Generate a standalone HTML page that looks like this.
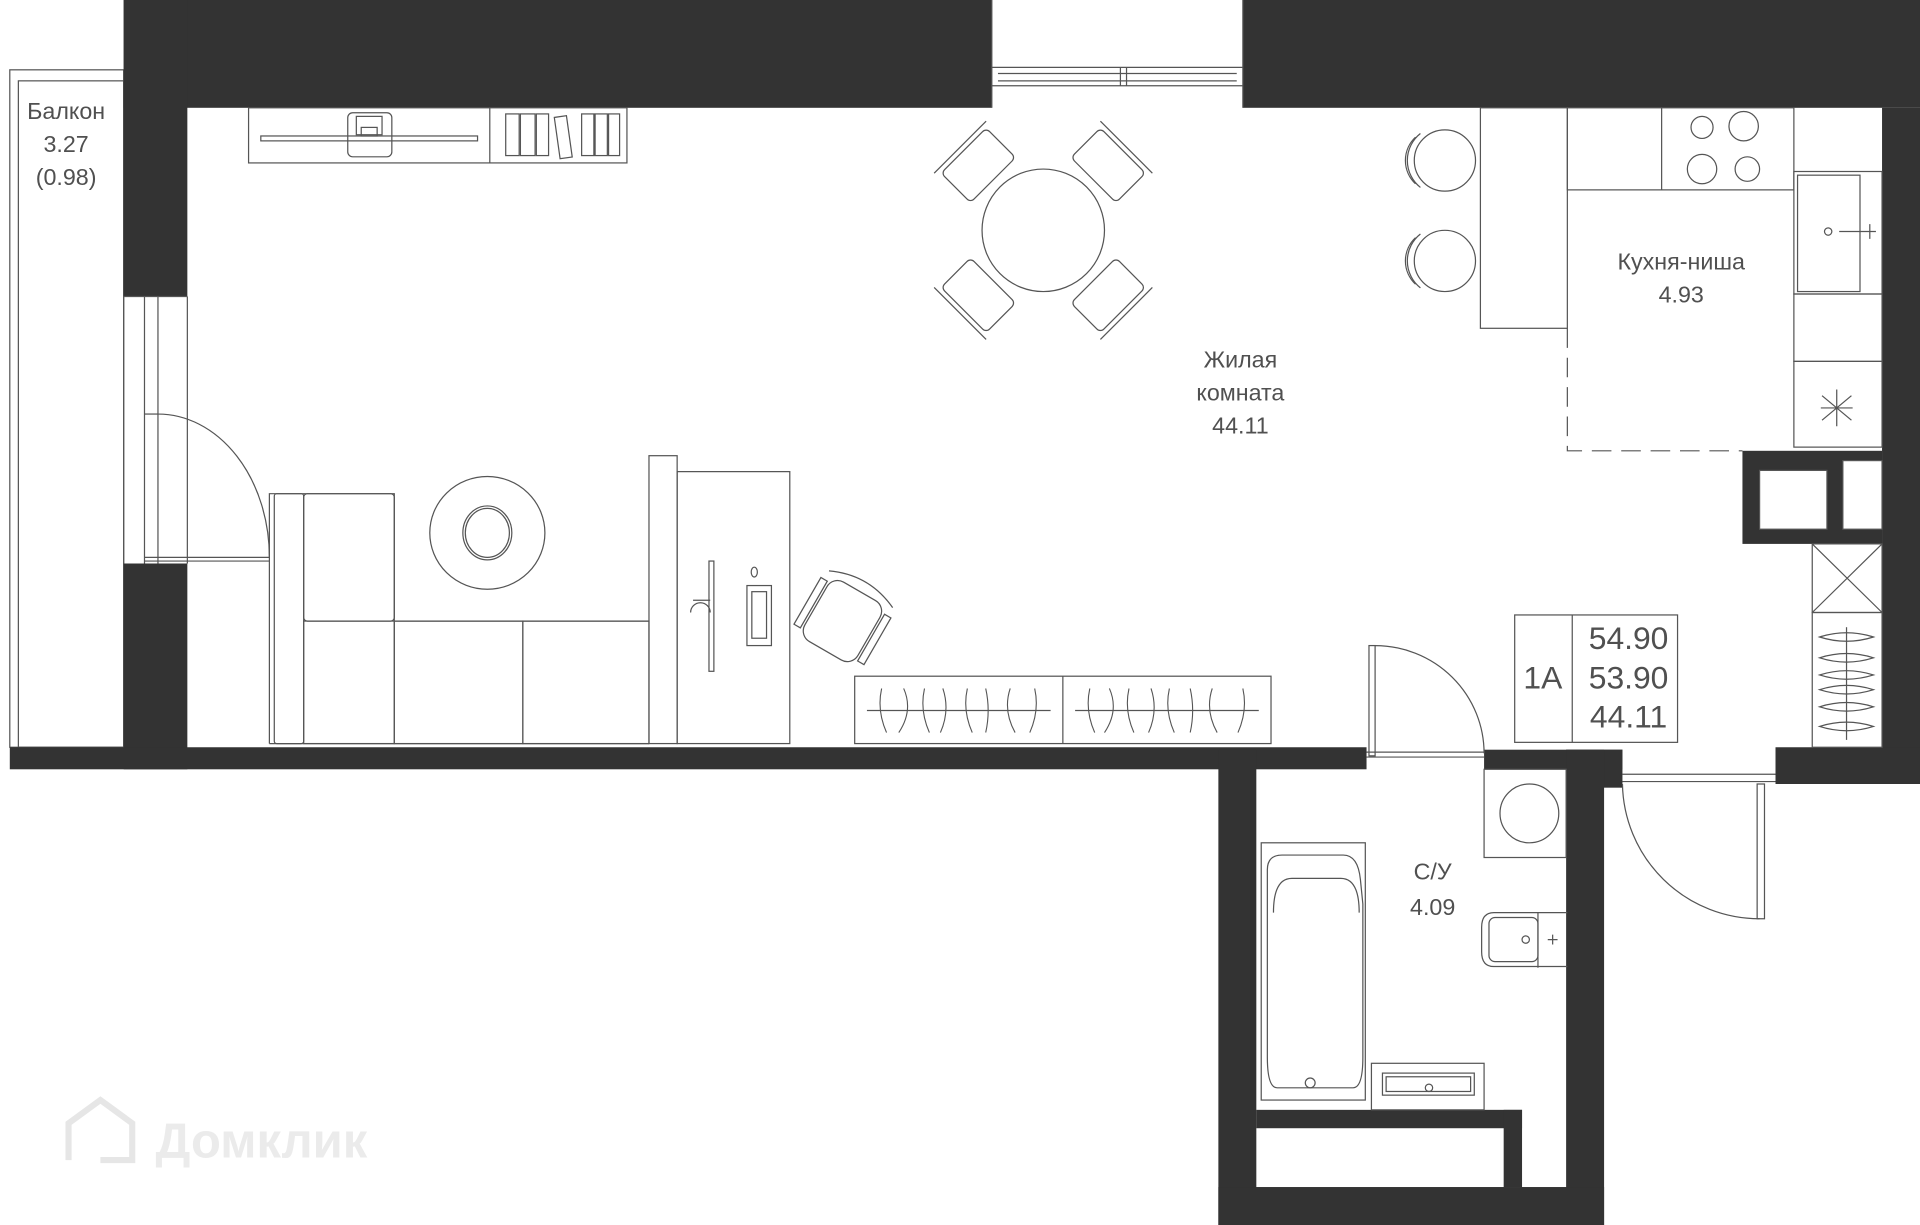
<!DOCTYPE html>
<html><head><meta charset="utf-8"><style>
html,body{margin:0;padding:0;background:#fff;width:1920px;height:1225px;overflow:hidden}
svg{display:block}
text{font-family:"Liberation Sans","DejaVu Sans",sans-serif;fill:#505050}
</style></head><body>
<svg width="1920" height="1225" viewBox="0 0 1568 1000" preserveAspectRatio="none">
<g fill="none" stroke="#555" stroke-width="1">
<rect x="8" y="57" width="93" height="553"/>
<rect x="15" y="66" width="86" height="544"/>
</g>
<g fill="#333">
<rect x="101" y="0" width="709" height="88"/>
<rect x="1015" y="0" width="553" height="88"/>
<rect x="101" y="0" width="52" height="242"/>
<rect x="101" y="460" width="52" height="168"/>
<rect x="8" y="610" width="1108" height="18"/>
<rect x="1537" y="88" width="31" height="552"/>
<rect x="1450" y="610" width="118" height="30"/>
<rect x="1212" y="612" width="113" height="16"/>
<rect x="1279" y="612" width="46" height="31"/>
<rect x="1423" y="368" width="114" height="76"/>
<rect x="995" y="612" width="31" height="388"/>
<rect x="1279" y="612" width="31" height="388"/>
<rect x="995" y="969" width="315" height="31"/>
<rect x="1026" y="906" width="217" height="15"/>
<rect x="1228" y="906" width="15" height="63"/>
</g>
<g fill="#fff" stroke="#555" stroke-width="1">
<rect x="1437" y="384" width="55" height="48"/>
<rect x="1505" y="376" width="32" height="56"/>
</g>
<g fill="none" stroke="#555" stroke-width="1">
<line x1="810" y1="55" x2="1015" y2="55"/><line x1="810" y1="70" x2="1015" y2="70"/>
<line x1="815" y1="60" x2="1010" y2="60"/><line x1="815" y1="66" x2="1010" y2="66"/>
<line x1="915" y1="55" x2="915" y2="70"/><line x1="920" y1="55" x2="920" y2="70"/>
<line x1="810" y1="0" x2="810" y2="88"/><line x1="1015" y1="0" x2="1015" y2="88"/>
<line x1="118" y1="242" x2="118" y2="460"/><line x1="129" y1="242" x2="129" y2="460"/>
<line x1="101" y1="242" x2="153" y2="242"/><line x1="153" y1="242" x2="153" y2="460"/>
<line x1="118" y1="338" x2="129" y2="338"/>
<line x1="118" y1="458" x2="220" y2="458"/><line x1="118" y1="455" x2="220" y2="455"/>
<path d="M129 338 A 91 117 0 0 1 220 455"/>
<line x1="1116" y1="614" x2="1212" y2="614"/><line x1="1116" y1="618" x2="1212" y2="618"/>
<rect x="1118" y="527" width="5" height="90"/>
<path d="M1123 527 A 89 88 0 0 1 1212 615"/>
<line x1="1325" y1="632" x2="1450" y2="632"/><line x1="1325" y1="638" x2="1450" y2="638"/>
<rect x="1435" y="640" width="6" height="110"/>
<path d="M1325 640 A 112 112 0 0 0 1437 750"/>
<rect x="203" y="88" width="309" height="45"/>
<line x1="400" y1="88" x2="400" y2="133"/>
<rect x="213" y="111" width="177" height="4"/>
<rect x="284" y="92" width="36" height="36" rx="4"/>
<rect x="291" y="95" width="21" height="15"/><rect x="295" y="104" width="13" height="7"/>
<rect x="413" y="93" width="11" height="34"/><rect x="425" y="93" width="12" height="34"/><rect x="438" y="93" width="10" height="34"/>
<rect x="455" y="95" width="10" height="34" transform="rotate(-8 460 112)"/>
<rect x="475" y="93" width="10" height="34"/><rect x="486" y="93" width="10" height="34"/><rect x="497" y="93" width="9" height="34"/>
<circle cx="852" cy="188" r="50"/>
<g transform="translate(852 188)">
<g transform="rotate(-45)"><rect x="-26" y="-92" width="52" height="34" rx="4"/><path d="M-30 -96 h60"/></g>
<g transform="rotate(45)"><rect x="-26" y="-92" width="52" height="34" rx="4"/><path d="M-30 -96 h60"/></g>
<g transform="rotate(135)"><rect x="-26" y="-92" width="52" height="34" rx="4"/><path d="M-30 -96 h60"/></g>
<g transform="rotate(-135)"><rect x="-26" y="-92" width="52" height="34" rx="4"/><path d="M-30 -96 h60"/></g>
</g>
<circle cx="1180" cy="131" r="25"/><path d="M1160 109 A 28 28 0 0 0 1160 153"/><path d="M1156 112 A 26 26 0 0 0 1156 150"/>
<circle cx="1180" cy="213" r="25"/><path d="M1160 191 A 28 28 0 0 0 1160 235"/><path d="M1156 194 A 26 26 0 0 0 1156 232"/>
<rect x="1209" y="88" width="71" height="180"/>
<rect x="1280" y="88" width="185" height="67"/>
<line x1="1357" y1="88" x2="1357" y2="155"/>
<circle cx="1390" cy="104" r="9"/><circle cx="1424" cy="103" r="12"/>
<circle cx="1390" cy="138" r="12"/><circle cx="1427" cy="138" r="10"/>
<path d="M1280 268 V368 H1423" stroke-dasharray="16 8"/>
<rect x="1465" y="140" width="72" height="100"/>
<rect x="1468" y="143" width="51" height="95"/>
<circle cx="1493" cy="189" r="3"/><path d="M1502 189 h30 M1527 183 v12"/>
<rect x="1465" y="240" width="72" height="55"/>
<rect x="1465" y="295" width="72" height="70"/>
<path d="M1500 318 v30 M1488 323 l24 20 M1512 323 l-24 20 M1487 333 h26"/>
<rect x="1480" y="444" width="57" height="56"/>
<path d="M1480 444 L1537 500 M1537 444 L1480 500"/>
<rect x="1480" y="500" width="57" height="110"/>
<path d="M1508 512 v92"/>
<path d="M1486 520 q22 -7 44 0 q-22 7 -44 0z M1486 537 q22 -7 44 0 q-22 7 -44 0z M1486 551 q22 -7 44 0 q-22 7 -44 0z M1486 563 q22 -7 44 0 q-22 7 -44 0z M1486 577 q22 -7 44 0 q-22 7 -44 0z M1486 593 q22 -7 44 0 q-22 7 -44 0z"/>
<rect x="1237" y="502" width="133" height="104"/>
<line x1="1284" y1="502" x2="1284" y2="606"/>
<!-- sofa -->
<path d="M220 607 V403 H322 V507 H530"/>
<line x1="220" y1="607" x2="530" y2="607"/>
<rect x="224" y="403" width="24" height="204" rx="2"/>
<rect x="248" y="403" width="74" height="104" rx="3"/>
<rect x="248" y="507" width="74" height="100"/>
<rect x="322" y="507" width="105" height="100"/>
<rect x="427" y="507" width="103" height="100"/>
<ellipse cx="398" cy="435" rx="47" ry="46"/>
<ellipse cx="398" cy="435" rx="20" ry="22"/><ellipse cx="398" cy="435" rx="18" ry="20"/>
<rect x="530" y="372" width="23" height="235"/>
<rect x="553" y="385" width="92" height="222"/>
<rect x="579" y="458" width="4" height="90"/>
<path d="M566 490 h14 M564 500 a8 8 0 0 1 16 0"/>
<rect x="610" y="478" width="20" height="49"/><rect x="614" y="483" width="12" height="38"/>
<ellipse cx="616" cy="467" rx="2.5" ry="4"/>
<g transform="translate(688 507) rotate(30)">
<rect x="-25" y="-28" width="50" height="56" rx="10"/>
<path d="M-30 -30 q30 -14 60 0"/>
<rect x="-33" y="-22" width="6" height="44"/><rect x="27" y="-22" width="6" height="44"/>
</g>
<rect x="698" y="552" width="340" height="55"/>
<line x1="868" y1="552" x2="868" y2="607"/>
<path d="M708 580 h150 M878 580 h150"/>
<g stroke-width="0.9">
<path d="M720 562 q-4 18 4 36 M738 562 q8 18 -4 36 M755 562 q-4 18 4 36 M770 562 q6 18 -2 36 M790 562 q-4 18 4 36 M805 562 q4 18 0 36 M825 562 q-6 18 4 36 M845 562 q4 18 -4 36"/>
<path d="M890 562 q-4 18 4 36 M906 562 q8 18 -4 36 M922 562 q-4 18 4 36 M940 562 q6 18 -2 36 M955 562 q-4 18 4 36 M972 562 q4 18 0 36 M990 562 q-6 18 4 36 M1015 562 q4 18 -4 36"/>
</g>
<rect x="1030" y="688" width="85" height="210"/>
<path d="M1035 710 q0 -12 12 -12 h50 q12 0 14 20 l2 20 v125 q0 25 -8 25 h-62 q-8 0 -8 -25z"/>
<path d="M1040 745 q0 -28 15 -28 h40 q15 0 15 28"/>
<circle cx="1070" cy="884" r="4"/>
<rect x="1212" y="628" width="67" height="72"/>
<circle cx="1249" cy="664" r="24"/>
<path d="M1280 745 h-60 q-10 0 -10 12 v20 q0 12 10 12 h60"/>
<rect x="1216" y="749" width="40" height="36" rx="5"/>
<line x1="1256" y1="745" x2="1256" y2="790"/>
<circle cx="1246" cy="767" r="3"/><path d="M1268 763 v8 M1264 767 h8"/>
<rect x="1120" y="868" width="92" height="38"/>
<rect x="1129" y="876" width="75" height="18"/><rect x="1132" y="879" width="69" height="12"/>
<circle cx="1167" cy="888" r="3"/>
</g>
<text x="54" y="97" font-size="19" text-anchor="middle">Балкон</text>
<text x="54" y="124" font-size="19" text-anchor="middle">3.27</text>
<text x="54" y="151" font-size="19" text-anchor="middle">(0.98)</text>
<text x="1013" y="300" font-size="19" text-anchor="middle">Жилая</text>
<text x="1013" y="327" font-size="19" text-anchor="middle">комната</text>
<text x="1013" y="354" font-size="19" text-anchor="middle">44.11</text>
<text x="1373" y="220" font-size="19" text-anchor="middle">Кухня-ниша</text>
<text x="1373" y="247" font-size="19" text-anchor="middle">4.93</text>
<text x="1170" y="718" font-size="19" text-anchor="middle">С/У</text>
<text x="1170" y="747" font-size="19" text-anchor="middle">4.09</text>
<text x="1260" y="562" font-size="26" text-anchor="middle">1А</text>
<text x="1330" y="530" font-size="26" text-anchor="middle">54.90</text>
<text x="1330" y="562" font-size="26" text-anchor="middle">53.90</text>
<text x="1330" y="594" font-size="26" text-anchor="middle">44.11</text>
<g fill="none" stroke="#e6e6e6" stroke-width="5">
<path d="M56 947 V917 L82 898 L108 917 V947 H82"/>
</g>
<text x="127" y="945" font-size="40" font-weight="bold" style="fill:#ebebeb">Домклик</text>
</svg>
</body></html>
